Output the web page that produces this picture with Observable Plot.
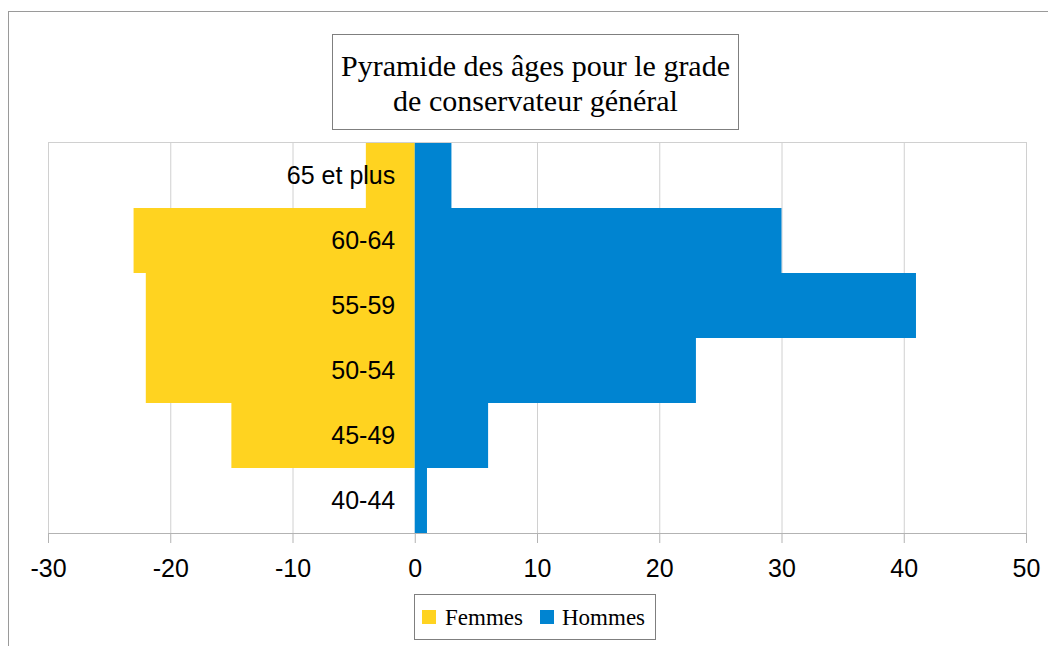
<!DOCTYPE html>
<html>
<head>
<meta charset="utf-8">
<script src="https://cdn.jsdelivr.net/npm/d3@7"></script>
<script src="https://cdn.jsdelivr.net/npm/@observablehq/plot@0.6"></script>
<style>
  html, body { margin: 0; padding: 0; background: #fff; }
  #wrap { position: relative; width: 1048px; height: 646px; overflow: hidden; }
  #frame { position: absolute; left: 8px; top: 11px; width: 1100px; height: 700px;
           border-left: 1px solid #9a9a9a; border-top: 1px solid #9a9a9a; }
  #chart { position: absolute; left: 0; top: 0; }
  #title { position: absolute; left: 332px; top: 34px; width: 407px; height: 96px; box-sizing: border-box;
           border: 1px solid #7f7f7f; background: #fff; padding-top: 13px; text-align: center;
           font-family: "Liberation Serif", "Times New Roman", serif; font-size: 30px; line-height: 35px; color: #000; }
  #legend { position: absolute; left: 414px; top: 594px; width: 242px; height: 46px; box-sizing: border-box;
            border: 1px solid #7f7f7f; background: #fff;
            font-family: "Liberation Serif", "Times New Roman", serif; font-size: 23px; color: #000; }
  .item { position: absolute; top: 1px; height: 44px; line-height: 44px; white-space: nowrap; }
  .sw { position: absolute; top: 15px; width: 14px; height: 14px; }
</style>
</head>
<body>
<div id="wrap">
  <div id="frame"></div>
  <div id="chart"></div>
  <div id="title">Pyramide des âges pour le grade<br>de conservateur général</div>
  <div id="legend"></div>
</div>
<script>
const ages = ["65 et plus", "60-64", "55-59", "50-54", "45-49", "40-44"];
const femmes = [4, 23, 22, 22, 15, 0];
const hommes = [3, 30, 41, 23, 6, 1];
const series = ["Femmes", "Hommes"];
const colors = ["#ffd320", "#0084d1"];
const xTicks = [-30, -20, -10, 0, 10, 20, 30, 40, 50];

const rows = [
  ...ages.map((a, i) => ({age: a, sexe: series[0], v: -femmes[i]})),
  ...ages.map((a, i) => ({age: a, sexe: series[1], v: hommes[i]}))
];

const chart = Plot.plot({
  width: 1048,
  height: 646,
  marginLeft: 48,
  marginRight: 22,
  marginTop: 142,
  marginBottom: 113,
  style: {background: "transparent", fontFamily: "'Liberation Sans', Arial, sans-serif", overflow: "visible"},
  x: {domain: [-30, 50], axis: null, label: null},
  y: {domain: ages, padding: 0, axis: null, label: null},
  color: {domain: series, range: colors},
  marks: [
    Plot.ruleX(xTicks, {x: d => d, stroke: "#d0d0d0", strokeWidth: 1}),
    Plot.frame({anchor: "top", stroke: "#d0d0d0"}),
    Plot.barX(rows, {x1: 0, x2: "v", y: "age", fill: "sexe", inset: 0}),
    Plot.text(ages, {x: 0, y: d => d, text: d => d, textAnchor: "end", dx: -20, fontSize: 25, fill: "#000"}),
    Plot.axisX({ticks: xTicks, tickSize: 10, tickPadding: 16, fontSize: 25, stroke: "#b3b3b3", fill: "#000",
                tickFormat: d => String(d), label: null}),
    Plot.frame({anchor: "bottom", stroke: "#b3b3b3"})
  ]
});
document.getElementById("chart").appendChild(chart);

const legend = document.getElementById("legend");
const swX = [7, 125];
const labX = [30, 147];
series.forEach((s, i) => {
  const sw = document.createElement("div");
  sw.className = "sw";
  sw.style.left = swX[i] + "px";
  sw.style.background = colors[i];
  legend.appendChild(sw);
  const lab = document.createElement("div");
  lab.className = "item";
  lab.style.left = labX[i] + "px";
  lab.textContent = s;
  legend.appendChild(lab);
});
</script>
</body>
</html>
